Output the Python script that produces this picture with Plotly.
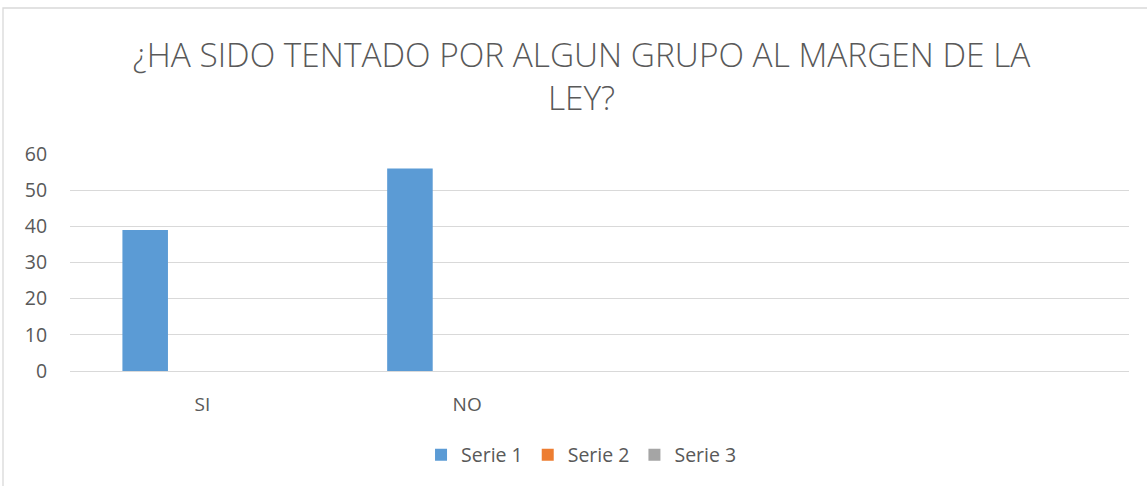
import plotly.graph_objects as go

categories = ["SI", "NO", "", ""]
series_names = ["Serie 1", "Serie 2", "Serie 3"]
serie1 = [39, 56, None, None]
serie2 = [None, None, None, None]
serie3 = [None, None, None, None]
y_ticks = [0, 10, 20, 30, 40, 50, 60]
title_text = "¿HA SIDO TENTADO POR ALGUN GRUPO AL MARGEN DE LA<br>LEY?"

colors = ["#5b9bd5", "#ed7d31", "#a5a5a5"]
offsets = [-0.302, -0.085, 0.133]
bar_w = 0.172

xpos = list(range(len(categories)))
fig = go.Figure()
for name, vals, col, off in zip(series_names, [serie1, serie2, serie3], colors, offsets):
    fig.add_trace(go.Bar(
        x=xpos, y=vals, name=name, marker=dict(color=col, line=dict(width=0)),
        width=bar_w, offset=off, showlegend=True,
    ))

font_family = "Open Sans"
fig.update_layout(
    width=1147, height=486, autosize=False,
    margin=dict(l=70, r=18, t=154, b=115, autoexpand=False),
    paper_bgcolor="white", plot_bgcolor="white",
    barmode="overlay",
    title=dict(text=title_text, x=0.507, xref="container", xanchor="center",
               y=1 - 67 / 486, yref="container", yanchor="top",
               font=dict(family=font_family, size=33.4, color="#595959", weight=300)),
    xaxis=dict(
        tickmode="array", tickvals=xpos, ticktext=categories,
        range=[-0.5, len(categories) - 0.5],
        showgrid=False, zeroline=False, showline=False, automargin=False,
        ticks="outside", ticklen=16, tickcolor="rgba(0,0,0,0)",
        tickfont=dict(family=font_family, size=19, color="#595959"),
    ),
    yaxis=dict(
        range=[0, 60], tickvals=y_ticks, automargin=False,
        showgrid=True, gridcolor="#d9d9d9", gridwidth=1.3,
        zeroline=True, zerolinecolor="#d9d9d9", zerolinewidth=1.3,
        showline=False,
        ticks="outside", ticklen=18, tickcolor="rgba(0,0,0,0)",
        tickfont=dict(family=font_family, size=19.5, color="#595959"),
    ),
    legend=dict(orientation="h", x=0.507, xref="container", xanchor="center",
                y=-0.388, yanchor="middle",
                font=dict(family=font_family, size=19.5, color="#595959"),
                itemwidth=30),
    shapes=[dict(type="rect", xref="paper", yref="paper",
                 x0=(3 - 70) / 1059, x1=1.2, y0=-1.0, y1=(371 - 9) / 216.4,
                 line=dict(color="#d9d9d9", width=1.3), fillcolor="rgba(0,0,0,0)",
                 layer="below")],
)

fig.write_html("out.html", config={"displayModeBar": False},
               post_script="document.body.style.margin='0';document.body.style.overflow='hidden';")
